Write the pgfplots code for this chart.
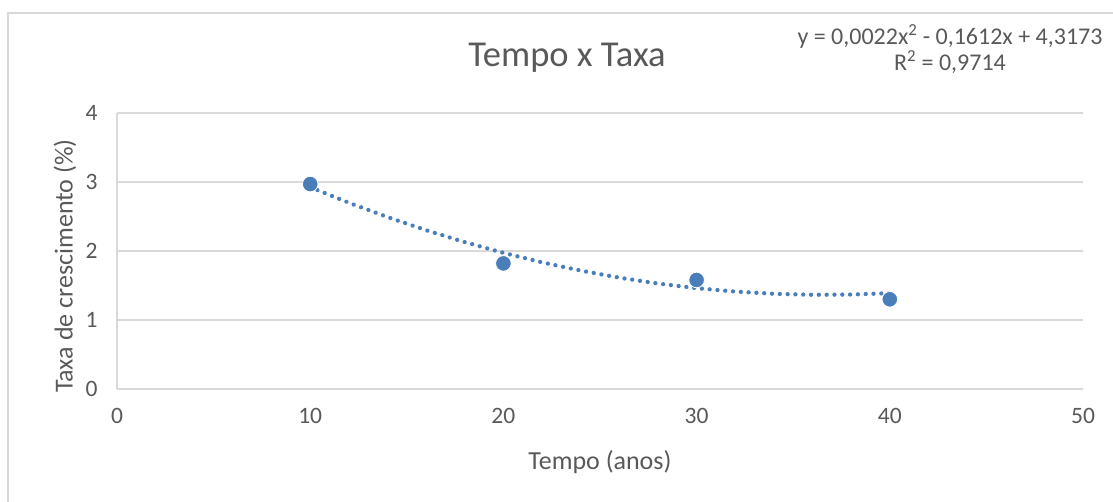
\documentclass[border=0pt]{standalone}
\usepackage{pgfplots}
\pgfplotsset{compat=1.18}
\usepackage{fontspec}
\setmainfont{Carlito}
\definecolor{mk}{HTML}{4A7EBB}
\definecolor{txt}{HTML}{595959}
\definecolor{grd}{HTML}{D9D9D9}
\begin{document}
\begin{tikzpicture}[x=1pt,y=1pt]
\path[use as bounding box] (0,0) rectangle (1113,502);
\draw[grd, line width=1.5pt] (8,0) -- (8,489) -- (1113,489);
\begin{axis}[
  at={(117pt,113pt)}, anchor=south west,
  scale only axis, width=966pt, height=276pt,
  xmin=0, xmax=50, ymin=0, ymax=4,
  xtick={0,10,20,30,40,50}, ytick={0,1,2,3,4},
  axis x line=bottom, axis y line=left,
  axis line style={grd, line width=1.5pt, -},
  ymajorgrids, grid style={grd, line width=1.5pt},
  major tick length=0pt,
  tick label style={font=\fontsize{23.5}{26}\selectfont, text=txt},
  /pgf/number format/assume math mode=true,
  yticklabel style={xshift=-16pt},
  xticklabel style={yshift=-16pt},
  clip=false,
]
\addplot[mk, line width=4.3pt, line cap=round, dash pattern=on 0.01pt off 7.8pt]
  coordinates {(10,2.9253) (12,2.6997) (14,2.4917) (16,2.3013) (18,2.1285) (20,1.9733)
  (22,1.8357) (24,1.7157) (26,1.6133) (28,1.5285) (30,1.4613) (32,1.4117)
  (34,1.3797) (36,1.3653) (38,1.3685) (40,1.3893)};
\addplot[only marks, mark=*, mark size=7.8pt, mark options={fill=mk, draw=white, line width=0.8pt}]
  coordinates {(10,2.97) (20,1.82) (30,1.58) (40,1.30)};
\end{axis}
\node[text=txt, font=\fontsize{36.5}{40}\selectfont] at (567,444) {Tempo x Taxa};
\node[text=txt, font=\fontsize{24}{28}\selectfont, align=center] at (950,453)
  {y = 0,0022x\textsuperscript{2} - 0,1612x + 4,3173\\[-2pt] R\textsuperscript{2} = 0,9714};
\node[text=txt, font=\fontsize{26}{30}\selectfont] at (600,40) {Tempo (anos)};
\node[text=txt, font=\fontsize{26}{30}\selectfont, rotate=90] at (65,236) {Taxa de crescimento (\%)};
\end{tikzpicture}
\end{document}
